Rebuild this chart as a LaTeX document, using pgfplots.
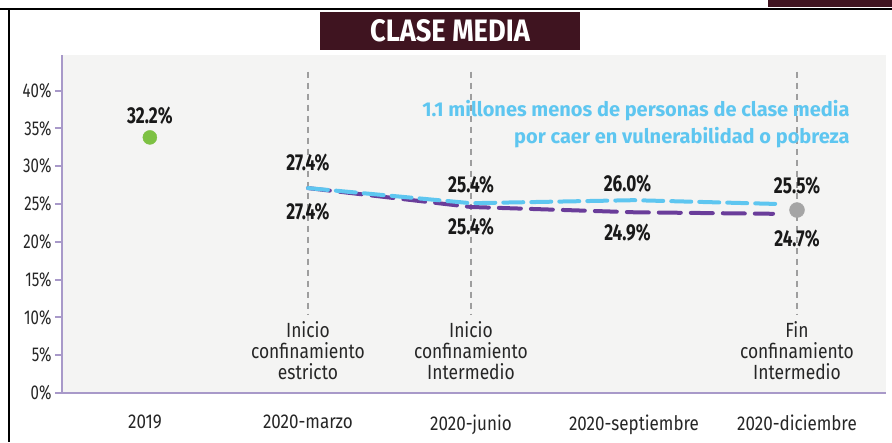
\documentclass[border=0pt]{standalone}
\usepackage{fontspec}
\setmainfont{Fira Sans}[FakeStretch=0.75]
\newfontfamily\plainfont{Fira Sans}
\newfontfamily\titlefont{Fira Sans}[FakeStretch=0.88]
\newfontfamily\midfont{Fira Sans}[FakeStretch=0.85]
\usepackage{pgfplots}
\pgfplotsset{compat=1.18}
\definecolor{maroon}{HTML}{3F1420}
\definecolor{bg}{HTML}{F4F4F3}
\definecolor{axpurple}{HTML}{A899C9}
\definecolor{lblue}{HTML}{5EC6F0}
\definecolor{dpurple}{HTML}{6A3D9A}
\definecolor{dgreen}{HTML}{7DC143}
\definecolor{dgray}{HTML}{A5A5A5}
\definecolor{vgray}{HTML}{9E9E9E}
\begin{document}
\begin{tikzpicture}[x=1pt,y=1pt]
\path[use as bounding box] (0,0) rectangle (892,442);
\fill[maroon] (768,435) rectangle (892,442);
\draw[black, line width=2pt] (0,433) -- (892,433);
\draw[black, line width=1.5pt] (9,433) -- (9,0);
\begin{axis}[at={(62pt,49pt)}, anchor=south west,
  width=824pt, height=338pt, scale only axis,
  xmin=-0.509, xmax=4.546, ymin=0, ymax=44.7,
  axis background/.style={fill=bg},
  axis x line*=bottom, axis y line*=left,
  axis line style={axpurple, line width=2pt, -},
  xtick={0,1,2,3,4},
  xticklabels={2019,2020-marzo,2020-junio,2020-septiembre,2020-diciembre},
  x tick style={draw=none},
  ytick={0,5,10,15,20,25,30,35,40},
  yticklabels={0\%,5\%,10\%,15\%,20\%,25\%,30\%,35\%,40\%},
  y tick style={axpurple, line width=2pt},
  tick align=outside, major tick length=7pt,
  yticklabel style={font=\fontsize{20}{22}\selectfont, text=black!85},
  xticklabel style={font=\midfont\fontsize{20}{22}\selectfont, text=black!85, yshift=-11pt},
  clip=false]
% vertical dashed guide lines
\addplot[vgray, line width=1.5pt, dash pattern=on 6pt off 5pt] coordinates {(1,42.5) (1,10.3)};
\addplot[vgray, line width=1.5pt, dash pattern=on 6pt off 5pt] coordinates {(2,42.5) (2,10.3)};
\addplot[vgray, line width=1.5pt, dash pattern=on 6pt off 5pt] coordinates {(4,42.5) (4,10.3)};
% series
\addplot[dpurple, line width=4pt, dash pattern=on 22pt off 10pt, line cap=round] coordinates {(1,27.1) (2,24.6) (3,23.9) (3.853,23.7)};
\addplot[lblue, line width=4pt, dash pattern=on 20pt off 8pt, line cap=round] coordinates {(1,27.1) (2,25.1) (3,25.5) (3.877,25.0)};
\addplot[only marks, mark=*, mark size=7pt, color=dgreen] coordinates {(0.03,33.8)};
\addplot[only marks, mark=*, mark size=7.5pt, color=dgray] coordinates {(4,24.2)};
% value labels
\begin{scope}[every node/.style={font=\fontsize{23}{25}\selectfont\bfseries, text=black!90}]
\node at (0.03,36.7) {32.2\%};
\node at (1,30.5) {27.4\%};
\node at (1,24.0) {27.4\%};
\node at (2,27.5) {25.4\%};
\node at (2,22.0) {25.4\%};
\node at (2.96,27.7) {26.0\%};
\node at (2.96,21.2) {24.9\%};
\node at (4,27.4) {25.5\%};
\node at (4,20.4) {24.7\%};
\end{scope}
% annotation
\node[anchor=east, align=right, text=lblue, font=\plainfont\fontsize{20}{27}\selectfont\bfseries] at (4.344,35.6) {1.1 millones menos de personas de clase media\\por caer en vulnerabilidad o pobreza};
% category notes
\begin{scope}[every node/.style={align=center, font=\midfont\fontsize{20.5}{21}\selectfont, text=black!85}]
\node at (1,5.56) {Inicio\\confinamiento\\estricto};
\node at (2,5.56) {Inicio\\confinamiento\\Intermedio};
\node at (4,5.56) {Fin\\confinamiento\\Intermedio};
\end{scope}
\end{axis}
\fill[maroon] (320,392) rectangle (580,430);
\node[white, font=\titlefont\fontsize{31}{33}\selectfont\bfseries] at (450,411) {CLASE MEDIA};
\end{tikzpicture}
\end{document}
